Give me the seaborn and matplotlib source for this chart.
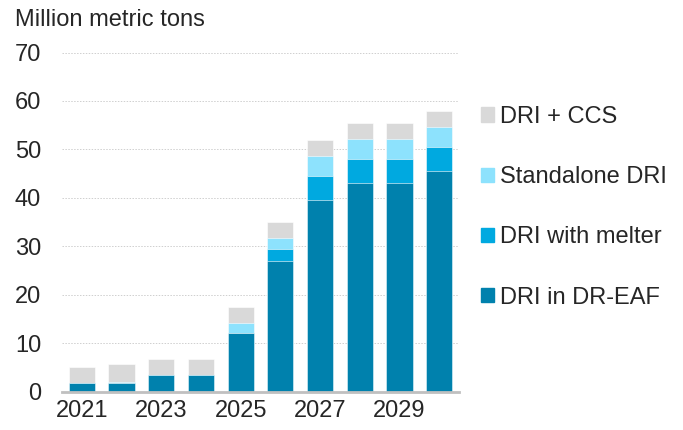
import matplotlib
matplotlib.use("Agg")
import matplotlib.pyplot as plt
import matplotlib.patches as mpatches
import numpy as np
import pandas as pd
import seaborn as sns

# ── data (million metric tons) ─────────────────────────────
years = [2021, 2022, 2023, 2024, 2025, 2026, 2027, 2028, 2029, 2030]
dr_eaf = [1.8, 1.8, 3.4, 3.4, 12.1, 27.0, 39.6, 43.1, 43.1, 45.6]
melter = [0.0, 0.0, 0.0, 0.0, 0.0, 2.4, 4.9, 5.0, 5.0, 4.9]
standalone = [0.0, 0.1, 0.0, 0.0, 2.1, 2.3, 4.1, 4.0, 4.0, 4.1]
ccs = [3.3, 3.8, 3.3, 3.3, 3.3, 3.2, 3.3, 3.3, 3.3, 3.3]

series = ["DRI in DR-EAF", "DRI with melter", "Standalone DRI", "DRI + CCS"]
colors = ["#0081ad", "#00a9e0", "#8de2fd", "#d9d9d9"]

df = pd.DataFrame({"year": [str(y) for y in years],
                   "DRI in DR-EAF": dr_eaf,
                   "DRI with melter": melter,
                   "Standalone DRI": standalone,
                   "DRI + CCS": ccs})
cum = df[series].cumsum(axis=1)

sns.set_style("white")
plt.rcParams["font.family"] = ["Liberation Sans", "DejaVu Sans"]

fig = plt.figure(figsize=(6.83, 4.3), dpi=100)
ax = fig.add_axes([62 / 683, 1 - 391.5 / 430, 397 / 683, 339 / 430])

# draw tallest (cumulative) first so lower segments sit on top
for name, col in reversed(list(zip(series, colors))):
    sns.barplot(x=df["year"], y=cum[name], color=col, width=0.66,
                saturation=1, ax=ax, edgecolor="white", linewidth=0.4)

ax.set_ylim(0, 70)
ax.set_yticks(range(0, 71, 10))
ax.set_xticks(range(0, 10, 2))
ax.set_xticklabels([str(y) for y in years[::2]])
ax.set_xlabel("")
ax.set_ylabel("")
ax.yaxis.grid(True, color="#cfcfcf", linestyle=(0, (1.5, 1.5)), linewidth=0.7)
ax.set_axisbelow(True)
for s in ["top", "right", "left"]:
    ax.spines[s].set_visible(False)
ax.spines["bottom"].set_color("#c0c0c0")
ax.spines["bottom"].set_linewidth(2)
ax.tick_params(axis="y", length=0, pad=15, labelsize=17)
ax.tick_params(axis="x", length=0, pad=6, labelsize=17)

fig.text(15 / 683, 1 - 9 / 430, "Million metric tons", fontsize=17,
         ha="left", va="top")

handles = [mpatches.Patch(color=c, label=n)
           for n, c in reversed(list(zip(series, colors)))]
fig.legend(handles=handles, loc="upper left",
           bbox_to_anchor=(469 / 683, 1 - 94 / 430), frameon=False,
           fontsize=17, handlelength=0.55, handleheight=0.55,
           handletextpad=0.25, labelspacing=1.62, borderpad=0)

fig.savefig("out.png", dpi=100)
